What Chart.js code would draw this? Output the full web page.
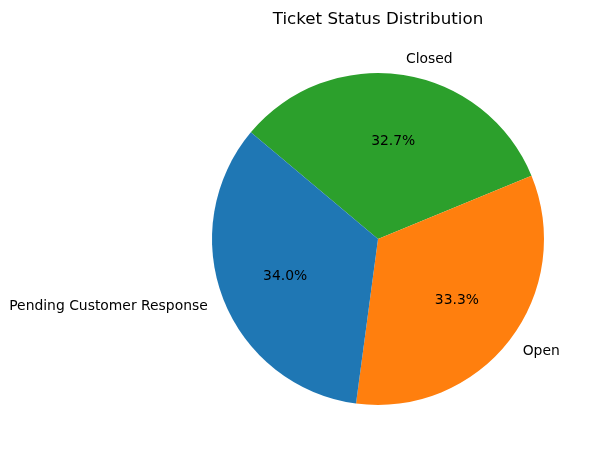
<!DOCTYPE html>
<html>
<head>
<meta charset="utf-8">
<script src="https://cdn.jsdelivr.net/npm/chart.js@4"></script>
<style>
  html, body { margin: 0; padding: 0; background: #fff; }
  #wrap { width: 595px; height: 457px; position: relative; }
</style>
</head>
<body>
<div id="wrap"><canvas id="chart" width="595" height="457"></canvas></div>
<script>
// data, in the order matplotlib drew it (counterclockwise from 140 deg)
var categories = ['Pending Customer Response', 'Open', 'Closed'];
var ticketCounts = [51, 50, 49];
var sliceColors = ['#1f77b4', '#ff7f0e', '#2ca02c'];
var chartTitle = 'Ticket Status Distribution';

// chart.js goes clockwise, so feed it reversed
var labels = categories.slice().reverse();
var values = ticketCounts.slice().reverse();
var colors = sliceColors.slice().reverse();

var FONT = '"DejaVu Sans", sans-serif';

var pieText = {
    id: 'pieText',
    afterDraw: function(chart) {
        var ctx = chart.ctx;
        var meta = chart.getDatasetMeta(0);
        var total = values.reduce(function(a, b) { return a + b; }, 0);
        ctx.save();
        ctx.fillStyle = '#000';
        ctx.textBaseline = 'middle';
        meta.data.forEach(function(arc, i) {
            var mid = (arc.startAngle + arc.endAngle) / 2;
            var r = arc.outerRadius;
            var c = Math.cos(mid), s = Math.sin(mid);
            // category label at 1.1 r
            ctx.font = '13.9px ' + FONT;
            ctx.textAlign = c >= 0 ? 'left' : 'right';
            ctx.fillText(labels[i], arc.x + c * r * 1.1, arc.y + s * r * 1.1 + 1);
            // percentage at 0.6 r
            ctx.textAlign = 'center';
            var pct = (values[i] / total * 100).toFixed(1) + '%';
            ctx.fillText(pct, arc.x + c * r * 0.6, arc.y + s * r * 0.6 + 1);
        });
        // title
        ctx.font = '16.7px ' + FONT;
        ctx.textAlign = 'center';
        ctx.textBaseline = 'alphabetic';
        ctx.fillText(chartTitle, meta.data[0].x, 23.5);
        ctx.restore();
    }
};

new Chart(document.getElementById('chart'), {
    type: 'pie',
    data: {
        labels: labels,
        datasets: [{
            data: values,
            backgroundColor: colors,
            borderWidth: 0
        }]
    },
    options: {
        responsive: false,
        animation: false,
        rotation: -50,
        layout: { padding: { left: 212, right: 51, top: 73, bottom: 52 } },
        plugins: {
            legend: { display: false },
            title: { display: false },
            tooltip: { enabled: false }
        }
    },
    plugins: [pieText]
});
</script>
</body>
</html>
